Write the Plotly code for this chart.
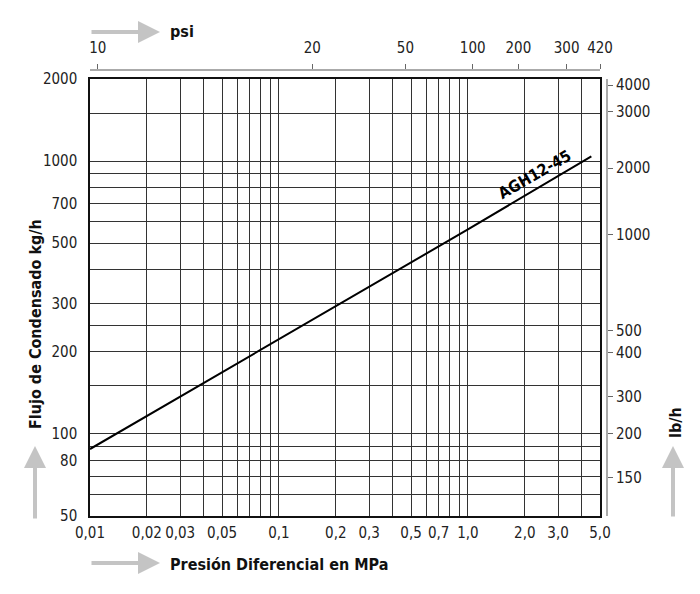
import math
import plotly.graph_objects as go

# curva AGH12-45 (Presión Diferencial MPa -> Flujo kg/h)
presion_mpa = [0.01, 0.1, 1.0, 4.5]
flujo_kgh = [88, 223, 562, 1040]

# rejilla y etiquetas eje inferior (MPa)
x_grid = [0.01, 0.02, 0.03, 0.04, 0.05, 0.06, 0.07, 0.08, 0.09,
          0.1, 0.2, 0.3, 0.4, 0.5, 0.6, 0.7, 0.8, 0.9,
          1.0, 2.0, 3.0, 4.0, 5.0]
x_text = ["0,01", "0,02", "0,03", "", "0,05", "", "", "", "",
          "0,1", "0,2", "0,3", "", "0,5", "", "0,7", "", "",
          "1,0", "2,0", "3,0", "", "5,0"]

# rejilla y etiquetas eje izquierdo (kg/h)
y_grid = [50, 60, 70, 80, 90, 100, 150, 200, 250, 300, 400, 500,
          600, 700, 800, 900, 1000, 1500, 2000]
y_text = ["50", "", "", "80", "", "100", "", "200", "", "300", "", "500",
          "", "700", "", "", "1000", "", "2000"]

# eje superior psi (posiciones leídas sobre la escala MPa)
psi_text = ["10", "20", "50", "100", "200", "300", "420"]
psi_pos_mpa = [0.0110, 0.150, 0.467, 1.06, 1.85, 3.33, 5.0]

# eje derecho lb/h (posiciones leídas sobre la escala kg/h)
lbh_text = ["4000", "3000", "2000", "1000", "500", "400", "300", "200", "150"]
lbh_pos_kgh = [1900, 1518, 942, 537, 239, 198, 137, 100, 69]

x_range = [math.log10(0.01), math.log10(5.0)]
y_range = [math.log10(50), math.log10(2000)]

# la página añade 8 px de margen al cuerpo
OFF = 8
W, H = 684, 578
ML, MR, MT, MB = 82, 85, 62, 70
PW, PH = W - ML - MR, H - MT - MB


def px(x):
    return (x - OFF - ML) / PW


def py(y):
    return (H - MB - (y - OFF)) / PH


tick_font = dict(family="DejaVu Sans Condensed", size=15, color="#222")
title_font = dict(family="DejaVu Sans Condensed", size=16, color="#111")
arrow_col = "#c4c4c4"

fig = go.Figure()
fig.add_trace(go.Scatter(x=presion_mpa, y=flujo_kgh, mode="lines",
                         line=dict(color="black", width=2), hoverinfo="skip"))
# trazas invisibles para activar los ejes secundarios
fig.add_trace(go.Scatter(x=presion_mpa, y=flujo_kgh, xaxis="x2", yaxis="y",
                         mode="lines", line=dict(width=0), hoverinfo="skip", showlegend=False))
fig.add_trace(go.Scatter(x=presion_mpa, y=flujo_kgh, xaxis="x", yaxis="y2",
                         mode="lines", line=dict(width=0), hoverinfo="skip", showlegend=False))

fig.update_layout(
    width=W, height=H,
    margin=dict(l=ML, r=MR, t=MT, b=MB, autoexpand=False),
    paper_bgcolor="white", plot_bgcolor="white",
    showlegend=False,
    xaxis=dict(type="log", range=x_range, domain=[0, 510 / PW], automargin=False,
               tickmode="array", tickvals=x_grid, ticktext=x_text,
               showgrid=True, gridcolor="#333", gridwidth=1,
               showline=True, linecolor="#111", linewidth=1.5, mirror=True,
               ticks="", tickfont=tick_font, zeroline=False, ticklabelstandoff=2),
    yaxis=dict(type="log", range=y_range, domain=[0, 437 / PH], automargin=False,
               tickmode="array", tickvals=y_grid, ticktext=y_text,
               showgrid=True, gridcolor="#333", gridwidth=1,
               showline=True, linecolor="#111", linewidth=1.5, mirror=True,
               ticks="", tickfont=tick_font, zeroline=False, ticklabelstandoff=8),
    xaxis2=dict(type="log", range=x_range, overlaying="x", side="top",
                anchor="free", position=1.0, automargin=False,
                tickmode="array", tickvals=psi_pos_mpa, ticktext=psi_text,
                showgrid=False, showline=True, linecolor="#aaa", linewidth=2,
                ticks="outside", ticklen=5, tickcolor="#666", tickfont=tick_font,
                ticklabelstandoff=5),
    yaxis2=dict(type="log", range=y_range, overlaying="y", side="right",
                anchor="free", position=1.0, automargin=False,
                tickmode="array", tickvals=lbh_pos_kgh, ticktext=lbh_text,
                showgrid=False, showline=True, linecolor="#aaa", linewidth=2,
                ticks="outside", ticklen=5, tickcolor="#666", tickfont=tick_font),
)

# etiqueta de la curva
fig.add_annotation(x=0.353, y=2.952, xref="x", yref="y", text="<b>AGH12-45</b>",
                   showarrow=False, textangle=-30,
                   font=dict(family="DejaVu Sans Condensed", size=16, color="black"))

# títulos de ejes
fig.add_annotation(x=px(168), y=py(564), xref="paper", yref="paper",
                   text="<b>Presión Diferencial en MPa</b>", showarrow=False,
                   xanchor="left", yanchor="middle", font=title_font)
fig.add_annotation(x=px(168), y=py(32), xref="paper", yref="paper",
                   text="<b>psi</b>", showarrow=False,
                   xanchor="left", yanchor="middle", font=title_font)
fig.add_annotation(x=px(35), y=py(324), xref="paper", yref="paper",
                   text="<b>Flujo de Condensado kg/h</b>", showarrow=False, textangle=-90,
                   xanchor="center", yanchor="middle", font=title_font)
fig.add_annotation(x=px(675), y=py(423), xref="paper", yref="paper",
                   text="<b>lb/h</b>", showarrow=False, textangle=-90,
                   xanchor="center", yanchor="middle", font=title_font)


# flechas grises
def flecha(x_tip, y_tip, ax, ay):
    fig.add_annotation(x=px(x_tip), y=py(y_tip), xref="paper", yref="paper",
                       text="", showarrow=True, ax=ax, ay=ay,
                       arrowhead=2, arrowsize=1.1, arrowwidth=4, arrowcolor=arrow_col)


flecha(160, 563, -70, 0)
flecha(160, 32, -70, 0)
flecha(35, 446, 0, 74)
flecha(673, 446, 0, 72)

fig.write_html("out.html")
